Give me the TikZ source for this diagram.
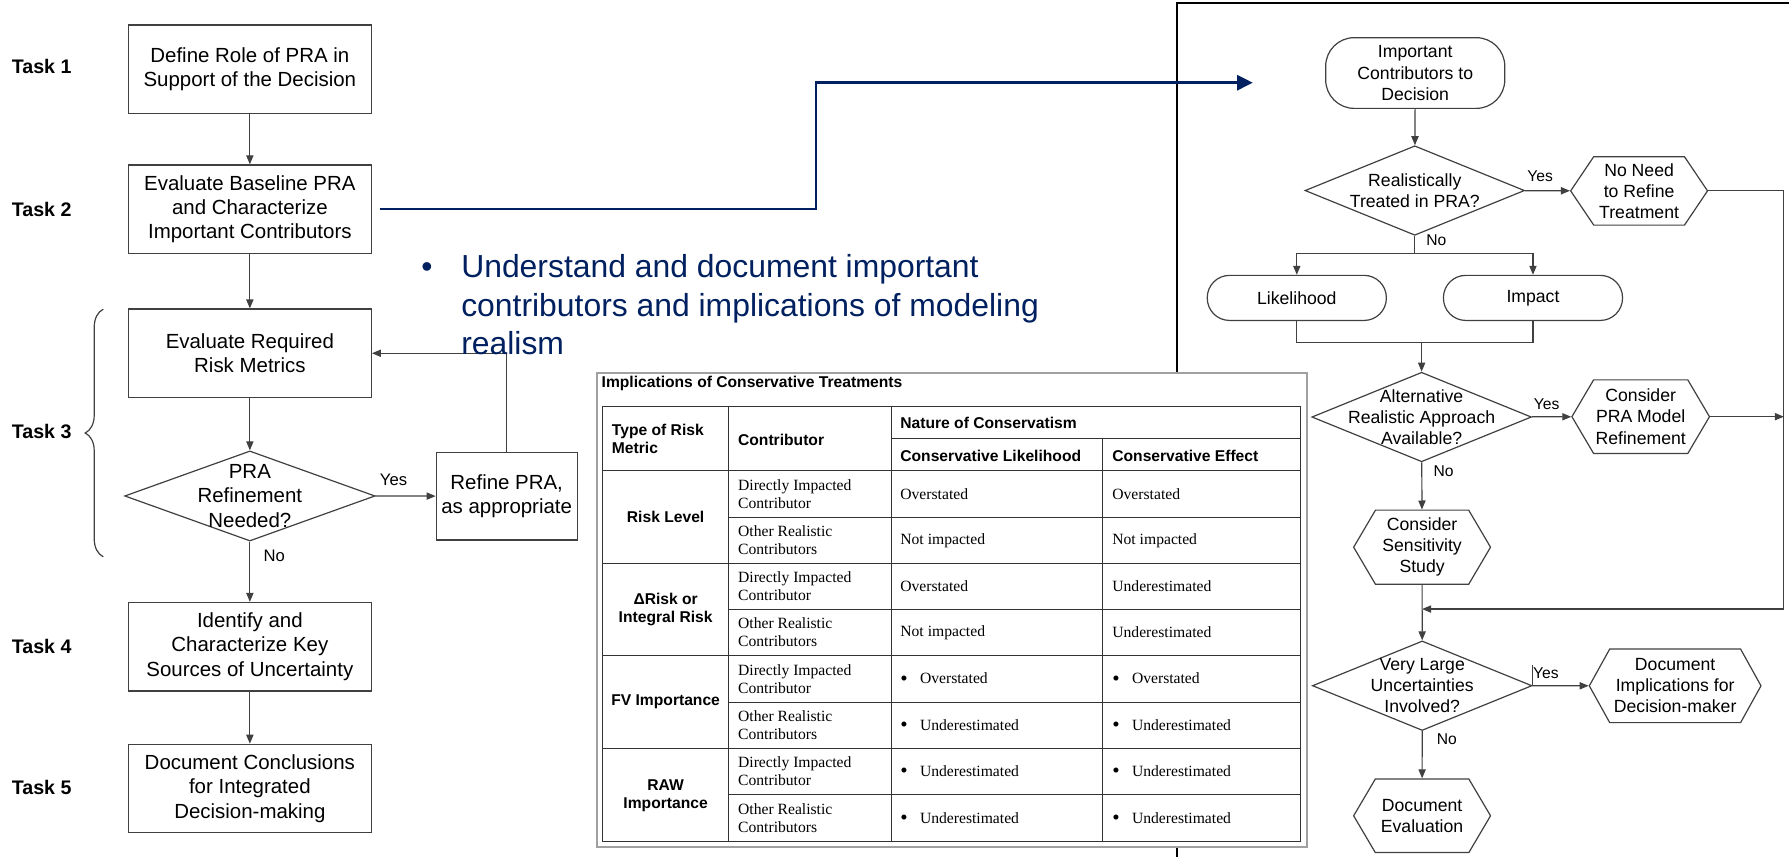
\documentclass[tikz,border=0pt]{standalone}
\usepackage{fontspec}
\setmainfont{Liberation Sans}
\newfontfamily\tabserif{Liberation Serif}
\usetikzlibrary{arrows.meta,positioning,shapes.geometric,shapes.symbols,decorations.pathreplacing}

\definecolor{navy}{RGB}{0,32,96}
\definecolor{lgray}{RGB}{64,64,64}
\definecolor{framegray}{RGB}{160,160,160}

\newcommand{\flowfont}{\fontsize{10.2}{12.1}\selectfont}
\newcommand{\smallflow}{\fontsize{8.8}{10.5}\selectfont}
\newcommand{\tabfont}{\fontsize{7.8}{9}\selectfont}
\newcommand{\tbul}[1]{\makebox[9.8pt][l]{\raisebox{-0.6pt}{\fontsize{10.5}{9}\selectfont\textbullet}}#1}

\begin{document}
\begin{tikzpicture}[x=0.02cm,y=-0.02cm,
    box/.style={draw=lgray, line width=0.6pt, minimum width=4.26cm, minimum height=1.55cm, align=center, inner sep=1pt, font=\flowfont},
    task/.style={anchor=west, inner sep=0pt, font=\bfseries\fontsize{9.8}{12}\selectfont},
    ldec/.style={diamond, draw=lgray, line width=0.6pt, inner sep=0pt, minimum width=4.39cm, minimum height=1.58cm, label={[align=center, inner sep=0pt, font=\flowfont]center:#1}},
    rdec/.style={diamond, draw=lgray, line width=0.6pt, inner sep=0pt, minimum width=3.85cm, minimum height=1.57cm, label={[align=center, inner sep=0pt, font=\smallflow]center:#1}},
    rnode/.style={draw=lgray, line width=0.6pt, align=center, inner sep=1pt, font=\smallflow},
    stad/.style={rnode, rounded corners=#1, minimum width=3.14cm},
    hex/.style={rnode, signal, signal to=east and west, signal pointer angle=#1},
    garrow/.style={draw=lgray, line width=0.6pt, -{Triangle[length=4.5pt,width=3.6pt]}},
    gline/.style={draw=lgray, line width=0.6pt},
    lbl/.style={inner sep=0pt, font=\fontsize{8.3}{10}\selectfont},
    rlbl/.style={inner sep=0pt, font=\fontsize{7.8}{9}\selectfont},
    tline/.style={draw=black!80, line width=0.5pt},
    tabh/.style={anchor=west, inner sep=0pt, align=left, font=\bfseries\tabfont},
    tabc/.style={anchor=west, inner sep=0pt, align=left, font=\tabserif\tabfont}]

    \useasboundingbox (0,0) rectangle (1568,751);

    % frame of the right panel
    \draw[black, line width=1pt] (1031.7,751) -- (1031.7,2.9) -- (1568,2.9);

    % task labels
    \node[task] (t1) at (10,58) {Task 1};
    \node[task] (t2) at (10,183.5) {Task 2};
    \node[task] (t3) at (10,378.3) {Task 3};
    \node[task] (t4) at (10,566.8) {Task 4};
    \node[task] (t5) at (10,690) {Task 5};

    % left flow
    \node[box] (role) at (219,60.6) {Define Role of PRA in\\Support of the Decision};
    \node[box] (base) at (219,183.3) {Evaluate Baseline PRA\\and Characterize\\Important Contributors};
    \node[box] (metr) at (219,309.6) {Evaluate Required\\Risk Metrics};
    \node[ldec={PRA\\Refinement\\Needed?}] (need) at (219,434.7) {};
    \node[box, minimum width=2.47cm, minimum height=1.54cm] (refn) at (444.1,434.85) {Refine PRA,\\as appropriate};
    \node[box] (unc) at (219,566.8) {Identify and\\Characterize Key\\Sources of Uncertainty};
    \node[box] (concl) at (219,691.1) {Document Conclusions\\for Integrated\\Decision-making};

    \draw[garrow] (role) -- (base);
    \draw[garrow] (base) -- (metr);
    \draw[garrow] (metr) -- (need);
    \draw[garrow] (need) -- node[lbl, pos=.3, yshift=8pt] {Yes} (refn);
    \draw[garrow] (need) -- node[lbl, pos=.23, xshift=12.2pt] {No} (unc);
    \draw[garrow] (unc) -- (concl);
    \draw[garrow] (refn.north) |- (metr.east);

    \draw[gline, decorate, decoration={brace, amplitude=9pt}] (90.5,488) -- (90.5,271);

    % bullet text
    \node[anchor=base west, inner sep=0pt, text=navy, font=\fontsize{15.9}{19.1}\selectfont] (bul) at (369,243.4)
        {\begin{tabular}[t]{@{}l@{}l@{}}\makebox[19.9pt][l]{\textbullet} & Understand and document important\\
         & contributors and implications of modeling\\ & realism\end{tabular}};

    % link to the right panel
    \coordinate (bturn) at (715.4,72.5);
    \coordinate (bend) at (1098,72.5);
    \draw[navy, line width=1.25pt, -{Triangle[length=7.8pt,width=7.5pt]}] ([xshift=3.8pt]base.east) -| (bturn) -- (bend);

    % table
    \draw[framegray, line width=1pt, fill=white] (523,327) rectangle (1145.5,742.5);
    \node[tabh] (ttl) at (527,336) {Implications of Conservative Treatments};
    \draw[tline] (528,356.4) rectangle (1140,737.7);
    \foreach \cx in {638.7,781.4}
        \draw[tline] (\cx,356.4) -- (\cx,737.7);
    \draw[tline] (966.6,384.2) -- (966.6,737.7);
    \draw[tline] (781.4,384.2) -- (1140,384.2);
    \foreach \ry in {412.5,493.7,574.7,655.9}
        \draw[tline] (528,\ry) -- (1140,\ry);
    \foreach \ry in {453.4,534,615.5,696.5}
        \draw[tline] (638.7,\ry) -- (1140,\ry);

    \node[tabh] (hty) at (536,385) {Type of Risk\\Metric};
    \node[tabh] (hco) at (646.6,385.6) {Contributor};
    \node[tabh] (hna) at (788.8,370.4) {Nature of Conservatism};
    \node[tabh] (hli) at (788.8,399.4) {Conservative Likelihood};
    \node[tabh] (hef) at (974.6,399.4) {Conservative Effect};

    \node[tabh, anchor=center, align=center] (g1) at (583.4,453.1) {Risk Level};
    \node[tabh, anchor=center, align=center] (g2) at (583.4,534.3) {ΔRisk or\\Integral Risk};
    \node[tabh, anchor=center, align=center] (g3) at (583.4,615.3) {FV Importance};
    \node[tabh, anchor=center, align=center] (g4) at (583.4,697.1) {RAW\\Importance};

    \foreach \yc in {433,513.9,595.1,676.2}
        \node[tabc] at (646.6,\yc) {Directly Impacted\\Contributor};
    \foreach \yc in {473.6,554.4,635.7,717.1}
        \node[tabc] at (646.6,\yc) {Other Realistic\\Contributors};

    \foreach \yc/\lk/\ef in {433/Overstated/Overstated, 473.6/Not impacted/Not impacted,
        513.9/Overstated/Underestimated, 554.4/Not impacted/Underestimated,
        595.1/\tbul{Overstated}/\tbul{Overstated}, 635.7/\tbul{Underestimated}/\tbul{Underestimated},
        676.2/\tbul{Underestimated}/\tbul{Underestimated}, 717.1/\tbul{Underestimated}/\tbul{Underestimated}}
    {
        \node[tabc] at (788.8,\yc) {\lk};
        \node[tabc] at (974.6,\yc) {\ef};
    }

    % right flow
    \node[stad=0.5cm, minimum height=1.24cm] (imp) at (1240.4,64) {Important\\Contributors to\\Decision};
    \node[rdec={Realistically\\Treated in PRA?}] (real) at (1240,167) {};
    \node[hex=112, minimum width=2.40cm, minimum height=1.20cm] (noneed) at (1436.6,167.3) {No Need\\to Refine\\Treatment};
    \node[stad=0.39cm, minimum height=0.79cm] (lik) at (1136.6,261.1) {Likelihood};
    \node[stad=0.39cm, minimum height=0.79cm] (impa) at (1343.6,261.1) {Impact};
    \node[rdec={Alternative\\Realistic Approach\\Available?}] (alt) at (1246,365.5) {};
    \node[hex=119, minimum width=2.39cm, minimum height=1.29cm] (cpra) at (1438,365.2) {Consider\\PRA Model\\Refinement};
    \node[hex=119, minimum width=2.40cm, minimum height=1.30cm] (sens) at (1246.4,479.6) {Consider\\Sensitivity\\Study};
    \node[rdec={Very Large\\Uncertainties\\Involved?}] (large) at (1246.5,601) {};
    \node[hex=122, minimum width=3.01cm, minimum height=1.29cm] (dimpl) at (1468.2,601.1) {Document\\Implications for\\Decision-maker};
    \node[hex=119, minimum width=2.40cm, minimum height=1.29cm] (deval) at (1246.4,715) {Document\\Evaluation};

    \coordinate (split) at (1240,222);
    \coordinate (join) at (1246,300.3);
    \coordinate (merge) at (1246.4,533.8);
    \coordinate (rbus) at (1563.5,533.8);

    \draw[garrow] (imp) -- (real);
    \draw[garrow] (real) -- node[rlbl, pos=.34, yshift=7.4pt] {Yes} (noneed);
    \draw[gline] (real.south) -- node[rlbl, pos=.25, xshift=10.8pt] {No} (split);
    \draw[garrow] (split) -| (lik.north);
    \draw[garrow] (split) -| (impa.north);
    \draw[gline] (lik.south) |- (join) -| (impa.south);
    \draw[garrow] (join) -- (alt);
    \draw[garrow] (alt) -- node[rlbl, pos=.38, yshift=6.3pt] {Yes} (cpra);
    \draw[garrow] (alt) -- node[rlbl, pos=.19, xshift=10.9pt] {No} (sens);
    \draw[garrow] (noneed.east) -| (rbus) -- (merge);
    \draw[garrow] (cpra.east) -- (cpra.east -| rbus);
    \draw[garrow] (sens) -- (large);
    \draw[garrow] (large) -- node[rlbl, pos=.24, yshift=6.3pt] {Yes} (dimpl);
    \draw[gline] (large.east) -- ++(0,-18);
    \draw[garrow] (large) -- node[rlbl, pos=.18, xshift=12.3pt] {No} (deval);
\end{tikzpicture}
\end{document}
